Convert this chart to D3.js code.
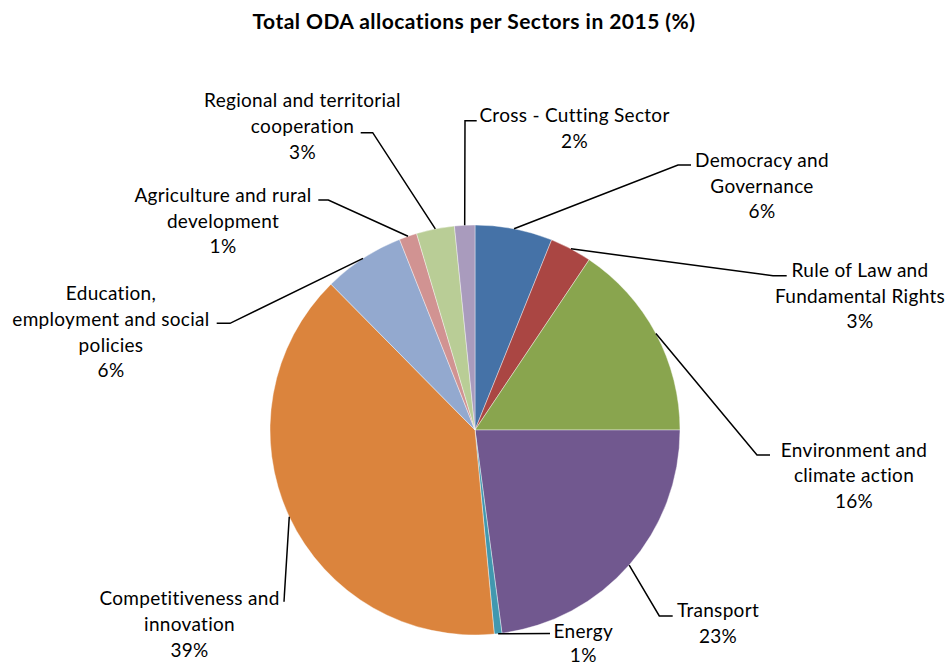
<!DOCTYPE html>
<html>
<head>
<meta charset="utf-8">
<script src="https://cdn.jsdelivr.net/npm/d3@7"></script>
<style>
  html, body { margin: 0; padding: 0; background: #fff; }
  svg { display: block; }
  text { font-family: Lato, "Open Sans", sans-serif; fill: #000; }
</style>
</head>
<body>
<svg id="chart" width="947" height="665"></svg>
<script>
// Sector names (label lines) and their share of total ODA in 2015, clockwise from 12 o'clock
const sectors = [
  "Democracy and Governance",
  "Rule of Law and Fundamental Rights",
  "Environment and climate action",
  "Transport",
  "Energy",
  "Competitiveness and innovation",
  "Education, employment and social policies",
  "Agriculture and rural development",
  "Regional and territorial cooperation",
  "Cross - Cutting Sector"
];
const labelLines = [
  ["Democracy and", "Governance"],
  ["Rule of Law and", "Fundamental Rights"],
  ["Environment and", "climate action"],
  ["Transport"],
  ["Energy"],
  ["Competitiveness and", "innovation"],
  ["Education,", "employment and social", "policies"],
  ["Agriculture and rural", "development"],
  ["Regional and territorial", "cooperation"],
  ["Cross - Cutting Sector"]
];
const shares = [6.1, 3.3, 15.6, 22.9, 0.6, 39.1, 6.4, 1.4, 3.0, 1.6];
const colors = ["#4572A7", "#AA4643", "#89A54E", "#71588F", "#4198AF",
                "#DB843D", "#93A9CF", "#D19392", "#B9CD96", "#A99BBD"];

// Label placement: text centre x, first baseline y, line gap, leader elbow and end points
const labelLayout = [
  { cx: 762,   y: 166.7, gap: 25.8, elbow: [678, 165],     end: [691, 165] },
  { cx: 860,   y: 276.7, gap: 25.8, elbow: [773, 275.7],   end: [786.7, 275.7] },
  { cx: 854,   y: 456.5, gap: 25.8, elbow: [757, 455],     end: [770, 455] },
  { cx: 718,   y: 616.7, gap: 25.8, elbow: [659.3, 616],   end: [672.7, 616] },
  { cx: 583.3, y: 638,   gap: 23.5, elbow: null,           end: [550, 633.5] },
  { cx: 189.5, y: 605,   gap: 25.8, elbow: null,           end: [284, 601.7] },
  { cx: 111,   y: 300,   gap: 25.8, elbow: [230, 323.3],   end: [216.7, 323.3] },
  { cx: 223,   y: 201.7, gap: 25.8, elbow: [328.3, 200],   end: [318.3, 200] },
  { cx: 302.5, y: 107,   gap: 25.8, elbow: [372.7, 132.7], end: [360.7, 132.7] },
  { cx: 574.5, y: 121.7, gap: 25.8, elbow: [465, 120.7],   end: [476.7, 120.7] }
];

const svg = d3.select("#chart");
const cx = 475, cy = 430, radius = 205;

svg.append("text")
  .attr("x", 474).attr("y", 29)
  .attr("text-anchor", "middle")
  .style("font-weight", "bold")
  .style("font-size", "21px")
  .style("letter-spacing", "0.45px")
  .text("Total ODA allocations per Sectors in 2015 (%)");

const pie = d3.pie().sort(null).value(d => d.value);
const arcs = pie(shares.map((v, i) => ({ value: v, name: sectors[i], i })));

const arc = d3.arc().innerRadius(0).outerRadius(radius);
const edgeArc = d3.arc().innerRadius(radius).outerRadius(radius);

const g = svg.append("g").attr("transform", `translate(${cx},${cy})`);

g.selectAll("path.slice")
  .data(arcs)
  .join("path")
  .attr("class", "slice")
  .attr("d", arc)
  .attr("fill", d => colors[d.data.i])
  .attr("stroke", "#fff")
  .attr("stroke-width", 0.4);

// Leader lines from the slice edge at its mid-angle to the label
const line = d3.line();
svg.selectAll("path.leader")
  .data(arcs)
  .join("path")
  .attr("class", "leader")
  .attr("d", d => {
    const L = labelLayout[d.data.i];
    const c = edgeArc.centroid(d);
    const pts = [[c[0] + cx, c[1] + cy]];
    if (L.elbow) pts.push(L.elbow);
    pts.push(L.end);
    return line(pts);
  })
  .attr("fill", "none")
  .attr("stroke", "#000")
  .attr("stroke-width", 1.5);

// Labels: name lines followed by the rounded share
const labels = svg.selectAll("text.lbl")
  .data(arcs)
  .join("text")
  .attr("class", "lbl")
  .attr("text-anchor", "middle")
  .style("font-size", "19px")
  .style("letter-spacing", "0.3px");

labels.each(function(d) {
  const L = labelLayout[d.data.i];
  const lines = labelLines[d.data.i].concat([Math.round(d.data.value) + "%"]);
  d3.select(this).selectAll("tspan")
    .data(lines)
    .join("tspan")
    .attr("x", L.cx)
    .attr("y", (t, k) => L.y + k * L.gap)
    .text(t => t);
});
</script>
</body>
</html>
